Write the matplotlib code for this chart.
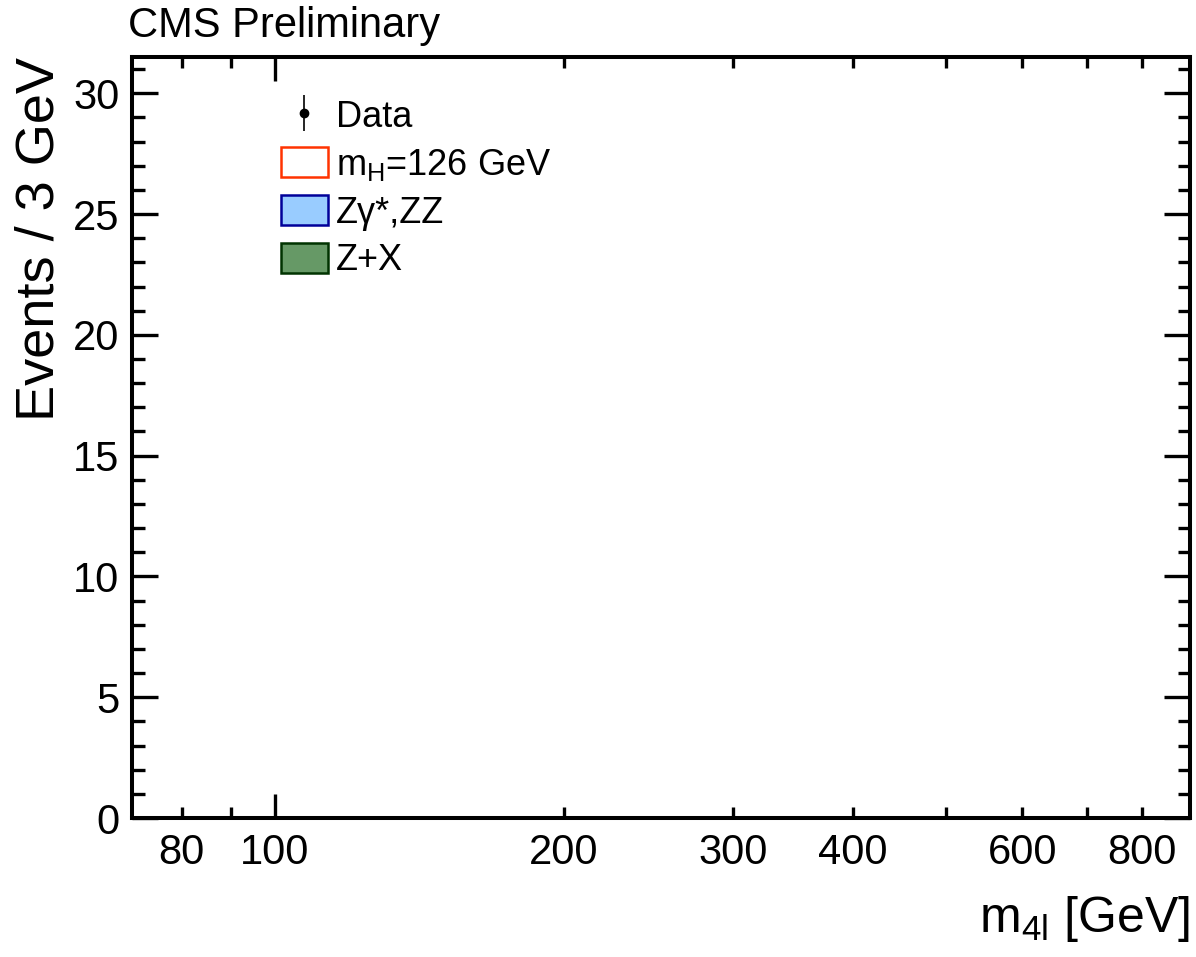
import matplotlib
matplotlib.use("Agg")
import matplotlib.pyplot as plt
from matplotlib.patches import Patch
from matplotlib.ticker import FixedLocator, FixedFormatter, MultipleLocator

plt.rcParams['font.family'] = ['Liberation Sans', 'DejaVu Sans']
plt.rcParams['mathtext.fontset'] = 'custom'
plt.rcParams['mathtext.rm'] = 'Liberation Sans'
plt.rcParams['mathtext.it'] = 'Liberation Sans:italic'

# Observed events (none selected in this view)
data_mass = []
data_counts = []
data_err = []

# Axis ranges and ticks
x_range = [71, 897]
y_range = [0, 31.5]
x_major_ticks = [100]
x_minor_ticks = [80, 90, 200, 300, 400, 500, 600, 700, 800, 900]
x_tick_labels = {80: "80", 100: "100", 200: "200", 300: "300",
                 400: "400", 600: "600", 800: "800"}

# Legend entries
legend_labels = ["Data", r"$\mathrm{m_{H}}$=126 GeV", "Z\u03b3*,ZZ", "Z+X"]
signal_colors = ("white", "#ff3300")
zz_colors = ("#99ccff", "#000099")
zx_colors = ("#669966", "#003300")

W, H = 1196, 957
fig = plt.figure(figsize=(W / 100, H / 100), dpi=100)
ax = fig.add_axes([132 / W, 1 - 818 / H, 1058 / W, 761 / H])

data_handle = ax.errorbar(data_mass, data_counts, yerr=data_err, fmt='o',
                          color='black', ms=6, elinewidth=1.2, capsize=0)

ax.set_xscale('log')
ax.set_xlim(*x_range)
ax.set_ylim(*y_range)

ax.xaxis.set_major_locator(FixedLocator(x_major_ticks))
ax.xaxis.set_minor_locator(FixedLocator(x_minor_ticks))
ax.xaxis.set_major_formatter(FixedFormatter([x_tick_labels.get(v, "") for v in x_major_ticks]))
ax.xaxis.set_minor_formatter(FixedFormatter([x_tick_labels.get(v, "") for v in x_minor_ticks]))
ax.yaxis.set_major_locator(MultipleLocator(5))
ax.yaxis.set_minor_locator(MultipleLocator(1))

for side in ax.spines.values():
    side.set_linewidth(2.9)

ax.tick_params(which='both', direction='in', top=True, right=True, width=2.4,
               labelsize=30, colors='black')
ax.tick_params(axis='y', which='major', length=19, pad=9)
ax.tick_params(axis='y', which='minor', length=9)
ax.tick_params(axis='x', which='major', length=17, pad=11)
ax.tick_params(axis='x', which='minor', length=8, pad=11, labelsize=30)

ax.set_ylabel("Events / 3 GeV", fontsize=39, loc='top', labelpad=6)
ax.set_xlabel(r"$\mathrm{m_{4l}}$ [GeV]", fontsize=36, loc='right', labelpad=15)

fig.text(128 / W, 1 - 37 / H, "CMS Preliminary", fontsize=30,
         ha='left', va='baseline')

handles = [
    data_handle,
    Patch(facecolor=signal_colors[0], edgecolor=signal_colors[1], linewidth=1.8),
    Patch(facecolor=zz_colors[0], edgecolor=zz_colors[1], linewidth=1.8),
    Patch(facecolor=zx_colors[0], edgecolor=zx_colors[1], linewidth=1.8),
]
ax.legend(handles, legend_labels, loc='upper left',
          bbox_to_anchor=((281 - 132) / 1058, (818 - 99) / 761),
          frameon=False, fontsize=26, borderpad=0, borderaxespad=0,
          handlelength=1.3, handleheight=0.91, handletextpad=0.22,
          labelspacing=0.34)

fig.savefig("out.png", dpi=100)
